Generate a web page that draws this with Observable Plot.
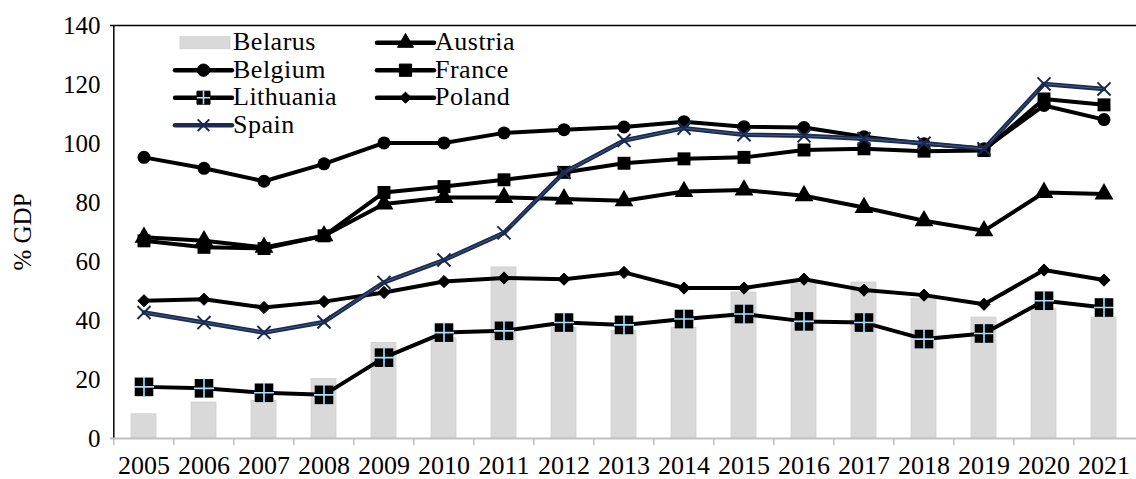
<!DOCTYPE html>
<html><head><meta charset="utf-8">
<script src="https://cdn.jsdelivr.net/npm/d3@7"></script>
<script src="https://cdn.jsdelivr.net/npm/@observablehq/plot@0.6"></script>
<style>
body{margin:0;background:#fff}
#wrap{position:relative;width:1136px;height:479px}
#legend{position:absolute;left:0;top:0;pointer-events:none}
#legend text{font-family:"Liberation Serif","Times New Roman",serif;font-size:26px}
</style>
</head><body><div id="wrap"></div>
<script>
const years = ["2005","2006","2007","2008","2009","2010","2011","2012","2013","2014","2015","2016","2017","2018","2019","2020","2021"];
const yTicks = [0,20,40,60,80,100,120,140];
const belarus   = [8.2,12.2,12.7,20.2,32.4,34,58,37.5,36.5,37.5,49.5,52.4,52.9,47.3,41,44,41];
const belgium   = [95.3,91.6,87.2,93.1,100.2,100.2,103.6,104.7,105.6,107.4,105.7,105.4,102.3,99.9,98.2,112.9,108.1];
const france    = [67,64.8,64.4,68.7,83.4,85.4,87.7,90.2,93.3,94.8,95.3,97.8,98.2,97.4,97.6,115.1,113.1];
const austria   = [68.2,67,64.8,68.7,79.5,81.7,81.7,81.2,80.6,83.7,84.2,82.3,78.3,73.8,70.4,83.4,82.9];
const poland    = [46.7,47.2,44.4,46.4,49.5,53.2,54.4,54,56.3,51,51,54,50.3,48.6,45.5,57.1,53.7];
const lithuania = [17.5,17,15.5,14.8,27.4,35.9,36.5,39.3,38.5,40.5,42.2,39.7,39.3,33.7,35.6,46.7,44.4];
const spain     = [42.7,39.3,35.9,39.5,52.9,60.5,69.7,90.2,101,105.2,103,102.6,101.6,100.1,98.2,120.2,118.5];

const seriesNames = ["Belgium","France","Austria","Poland","Lithuania","Spain"];
const seriesValues = [belgium,france,austria,poland,lithuania,spain];
const rows = seriesNames.flatMap((n,k)=>years.map((y,i)=>({series:n,year:y,value:seriesValues[k][i]})));
const bars = years.map((y,i)=>({year:y,value:belarus[i]}));
const by = n => rows.filter(d=>d.series===n);

const font = "'Liberation Serif','Times New Roman',serif";
const navy = "#1b2a4e";
const plus = "#a6e3ff";

const lineMarks = [];
for (const n of ["Belgium","France","Austria","Poland","Lithuania"]) {
  lineMarks.push(Plot.line(by(n), {x:"year", y:"value", stroke:"#000", strokeWidth:4}));
}
lineMarks.push(
  Plot.dot(by("Belgium"), {x:"year", y:"value", symbol:"circle", r:6.5, fill:"#000"}),
  Plot.dot(by("France"), {x:"year", y:"value", symbol:"square", r:7.3, fill:"#000"}),
  Plot.dot(by("Austria"), {x:"year", y:"value", symbol:"triangle", r:7, fill:"#000"}),
  Plot.dot(by("Poland"), {x:"year", y:"value", symbol:"diamond2", r:5.5, fill:"#000", stroke:"#000", strokeWidth:1}),
  Plot.dot(by("Lithuania"), {x:"year", y:"value", symbol:"square", r:10.5, fill:"#000"}),
  Plot.dot(by("Lithuania"), {x:"year", y:"value", symbol:"plus", r:6.5, stroke:plus, strokeWidth:1.6}),
  Plot.line(by("Spain"), {x:"year", y:"value", stroke:navy, strokeWidth:4.5}),
  Plot.line(by("Spain"), {x:"year", y:"value", stroke:"#4d6f9e", strokeWidth:1, strokeOpacity:0.7}),
  Plot.dot(by("Spain"), {x:"year", y:"value", symbol:"times", r:6, stroke:navy, strokeWidth:2})
);

const chart = Plot.plot({
  width:1136, height:479,
  marginLeft:110, marginRight:0, marginTop:25, marginBottom:41,
  style:{fontFamily:font, fontSize:"26px", color:"#000", background:"#fff"},
  x:{type:"band", domain:years, paddingInner:0.59, paddingOuter:0.295},
  y:{domain:[0,140]},
  marks:[
    Plot.barY(bars, {x:"year", y:"value", fill:"#d9d9d9", stroke:"#cfcfcf", strokeWidth:0.8}),
    Plot.ruleY([140], {stroke:"#000", strokeWidth:1.5}),
    Plot.ruleX([years[0]], {y1:0, y2:140, dx:-30.18, stroke:"#000", strokeWidth:1.5}),
    Plot.ruleY([0], {stroke:"#bfbfbf", strokeWidth:1.8}),
    Plot.axisY({ticks:yTicks, tickSize:0, tickPadding:10, fontSize:25, label:"% GDP", labelAnchor:"center", labelOffset:97, labelArrow:"none", fontSize:25}),
    Plot.axisX({tickSize:7, text:null, dx:-30.18, stroke:"#bfbfbf", strokeWidth:1.5, label:null}),
    Plot.axisX({tickSize:0, tickPadding:17, label:null}),
    ...lineMarks
  ]
});
const wrap = document.getElementById("wrap");
wrap.appendChild(chart);

// Legend overlay
const leg = d3.select(wrap).append("svg").attr("id","legend").attr("width",1136).attr("height",479);
const items = [
  {name:"Belarus", kind:"bar", col:0, row:0},
  {name:"Austria", sym:d3.symbolTriangle, size:110, col:1, row:0},
  {name:"Belgium", sym:d3.symbolCircle, size:120, col:0, row:1},
  {name:"France", sym:d3.symbolSquare, size:150, col:1, row:1},
  {name:"Lithuania", sym:d3.symbolSquare, size:170, col:0, row:2, plus:true},
  {name:"Poland", sym:d3.symbolDiamond2, size:80, col:1, row:2},
  {name:"Spain", sym:d3.symbolTimes, size:90, col:0, row:3, spain:true}
];
const colX = [175, 377];
for (const it of items) {
  const x0 = colX[it.col], cy = 42.7 + 27.5*it.row, x1 = x0 + 57;
  const g = leg.append("g");
  if (it.kind === "bar") {
    g.append("rect").attr("x", x0+5).attr("y", cy-6).attr("width", 50).attr("height", 12)
      .attr("fill","#d9d9d9").attr("stroke","#cfcfcf").attr("stroke-width",0.8);
  } else {
    const col = it.spain ? navy : "#000";
    g.append("line").attr("x1",x0).attr("x2",x1).attr("y1",cy).attr("y2",cy)
      .attr("stroke",col).attr("stroke-width",4.5).attr("stroke-linecap","round");
    const p = d3.symbol(it.sym, it.size)();
    const s = g.append("path").attr("d",p).attr("transform",`translate(${(x0+x1)/2},${cy})`);
    if (it.spain) s.attr("fill","none").attr("stroke",navy).attr("stroke-width",2);
    else s.attr("fill","#000").attr("stroke","#000");
    if (it.plus) g.append("path").attr("d", d3.symbol(d3.symbolPlus, 60)()).attr("transform",`translate(${(x0+x1)/2},${cy})`)
      .attr("fill","none").attr("stroke",plus).attr("stroke-width",1.6);
  }
  g.append("text").attr("x", x1+1).attr("y", cy+7.5).attr("fill","#000")
    .attr("font-family","Liberation Serif, Times New Roman, serif").attr("font-size",26)
    .style("letter-spacing","0.5px").text(it.name);
}
</script>
</body></html>
